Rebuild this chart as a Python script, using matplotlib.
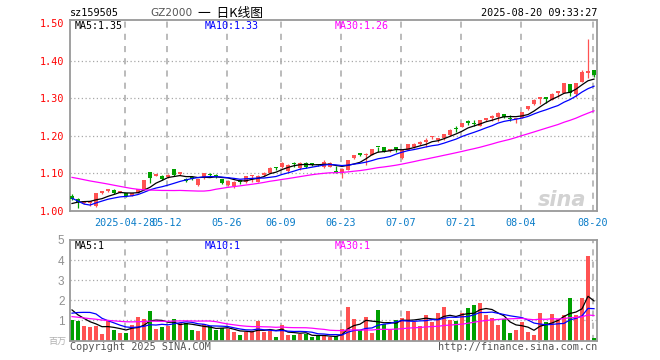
#!/usr/bin/env python
# -*- coding: utf-8 -*-

"""
plot.py

Daily K-line chart of sz159505 (GZ2000) in the style of the sina finance
snapshot: candles with MA5/MA10/MA30 on top, volume bars with their own
moving averages below.
"""
# ~~~~~~~~~~~~~~~~~~~~~~~~~~~~~~~~~~~~~~~~~~~~~~~~~~~~~~~~~~~~~~~~~~~~~~~~~~~~ #
# ~~~ 1) Imports ~~~~~~~~~~~~~~~~~~~~~~~~~~~~~~~~~~~~~~~~~~~~~~~~~~~~~~~~~~~~~ #
import matplotlib
matplotlib.use('Agg')
import matplotlib.pyplot as plt
import numpy as np
import pandas as pd


# ~~~~~~~~~~~~~~~~~~~~~~~~~~~~~~~~~~~~~~~~~~~~~~~~~~~~~~~~~~~~~~~~~~~~~~~~~~~~ #
# ~~~ 2) Data ~~~~~~~~~~~~~~~~~~~~~~~~~~~~~~~~~~~~~~~~~~~~~~~~~~~~~~~~~~~~~~~~ #
dates = [
    '2025-04-15', '2025-04-16', '2025-04-17', '2025-04-18', '2025-04-21',
    '2025-04-22', '2025-04-23', '2025-04-24', '2025-04-25', '2025-04-28',
    '2025-04-29', '2025-04-30', '2025-05-06', '2025-05-07', '2025-05-08',
    '2025-05-09', '2025-05-12', '2025-05-13', '2025-05-14', '2025-05-15',
    '2025-05-16', '2025-05-19', '2025-05-20', '2025-05-21', '2025-05-22',
    '2025-05-23', '2025-05-26', '2025-05-27', '2025-05-28', '2025-05-29',
    '2025-05-30', '2025-06-03', '2025-06-04', '2025-06-05', '2025-06-06',
    '2025-06-09', '2025-06-10', '2025-06-11', '2025-06-12', '2025-06-13',
    '2025-06-16', '2025-06-17', '2025-06-18', '2025-06-19', '2025-06-20',
    '2025-06-23', '2025-06-24', '2025-06-25', '2025-06-26', '2025-06-27',
    '2025-06-30', '2025-07-01', '2025-07-02', '2025-07-03', '2025-07-04',
    '2025-07-07', '2025-07-08', '2025-07-09', '2025-07-10', '2025-07-11',
    '2025-07-14', '2025-07-15', '2025-07-16', '2025-07-17', '2025-07-18',
    '2025-07-21', '2025-07-22', '2025-07-23', '2025-07-24', '2025-07-25',
    '2025-07-28', '2025-07-29', '2025-07-30', '2025-07-31', '2025-08-01',
    '2025-08-04', '2025-08-05', '2025-08-06', '2025-08-07', '2025-08-08',
    '2025-08-11', '2025-08-12', '2025-08-13', '2025-08-14', '2025-08-15',
    '2025-08-18', '2025-08-19', '2025-08-20']

open_ = [
    1.041, 1.031, 1.021, 1.022, 1.013, 1.048, 1.053, 1.056, 1.049, 1.047,
    1.041, 1.049, 1.056, 1.103, 1.094, 1.093, 1.091, 1.111, 1.099, 1.083,
    1.091, 1.069, 1.087, 1.096, 1.095, 1.084, 1.070, 1.066, 1.079, 1.077,
    1.092, 1.078, 1.096, 1.102, 1.114, 1.117, 1.106, 1.125, 1.113, 1.127,
    1.125, 1.123, 1.118, 1.118, 1.107, 1.100, 1.109, 1.140, 1.151, 1.148,
    1.149, 1.170, 1.169, 1.159, 1.166, 1.140, 1.163, 1.169, 1.177, 1.183,
    1.196, 1.190, 1.195, 1.202, 1.218, 1.224, 1.236, 1.235, 1.226, 1.241,
    1.247, 1.250, 1.257, 1.246, 1.244, 1.248, 1.270, 1.284, 1.298, 1.300,
    1.296, 1.314, 1.314, 1.337, 1.312, 1.343, 1.368, 1.374]
high = [
    1.044, 1.035, 1.026, 1.023, 1.048, 1.052, 1.057, 1.058, 1.053, 1.049,
    1.049, 1.059, 1.083, 1.104, 1.098, 1.095, 1.099, 1.112, 1.104, 1.088,
    1.093, 1.085, 1.101, 1.100, 1.098, 1.086, 1.082, 1.080, 1.082, 1.094,
    1.095, 1.095, 1.103, 1.117, 1.117, 1.131, 1.125, 1.130, 1.130, 1.129,
    1.128, 1.125, 1.135, 1.130, 1.119, 1.113, 1.136, 1.150, 1.155, 1.155,
    1.166, 1.171, 1.171, 1.162, 1.167, 1.163, 1.179, 1.182, 1.185, 1.193,
    1.200, 1.195, 1.206, 1.218, 1.225, 1.235, 1.242, 1.242, 1.242, 1.248,
    1.254, 1.262, 1.259, 1.254, 1.248, 1.264, 1.280, 1.297, 1.300, 1.301,
    1.313, 1.316, 1.341, 1.338, 1.340, 1.375, 1.456, 1.375]
low = [
    1.029, 1.007, 1.019, 1.014, 1.010, 1.045, 1.050, 1.045, 1.047, 1.038,
    1.040, 1.048, 1.055, 1.075, 1.092, 1.082, 1.089, 1.094, 1.096, 1.077,
    1.082, 1.066, 1.086, 1.090, 1.088, 1.072, 1.066, 1.061, 1.072, 1.075,
    1.078, 1.076, 1.094, 1.100, 1.110, 1.115, 1.104, 1.118, 1.109, 1.115,
    1.120, 1.119, 1.115, 1.116, 1.101, 1.089, 1.108, 1.139, 1.146, 1.122,
    1.148, 1.156, 1.156, 1.157, 1.156, 1.138, 1.162, 1.168, 1.176, 1.170,
    1.192, 1.183, 1.190, 1.200, 1.211, 1.222, 1.228, 1.225, 1.225, 1.239,
    1.240, 1.238, 1.248, 1.238, 1.235, 1.246, 1.269, 1.283, 1.284, 1.286,
    1.295, 1.303, 1.313, 1.306, 1.302, 1.342, 1.354, 1.356]
close = [
    1.033, 1.023, 1.022, 1.023, 1.047, 1.049, 1.054, 1.047, 1.050, 1.040,
    1.048, 1.058, 1.082, 1.087, 1.095, 1.084, 1.097, 1.095, 1.100, 1.081,
    1.084, 1.084, 1.100, 1.095, 1.092, 1.074, 1.079, 1.078, 1.077, 1.093,
    1.094, 1.093, 1.101, 1.115, 1.113, 1.128, 1.122, 1.124, 1.128, 1.118,
    1.123, 1.121, 1.131, 1.128, 1.102, 1.111, 1.135, 1.149, 1.150, 1.149,
    1.165, 1.169, 1.157, 1.161, 1.165, 1.162, 1.178, 1.177, 1.184, 1.185,
    1.197, 1.191, 1.204, 1.215, 1.217, 1.233, 1.235, 1.230, 1.241, 1.247,
    1.253, 1.261, 1.250, 1.244, 1.246, 1.263, 1.279, 1.296, 1.300, 1.298,
    1.312, 1.315, 1.339, 1.314, 1.339, 1.370, 1.369, 1.361]
volume = [
    1.02, 0.98, 0.72, 0.67, 0.74, 0.33, 1.00, 0.52, 0.38, 0.38,
    0.77, 1.19, 1.07, 1.47, 0.58, 0.69, 0.74, 1.07, 0.86, 0.85,
    0.52, 0.48, 0.80, 0.70, 0.50, 0.60, 0.57, 0.43, 0.28, 0.42,
    0.45, 0.98, 0.40, 0.48, 0.18, 0.78, 0.25, 0.28, 0.32, 0.30,
    0.15, 0.20, 0.28, 0.16, 0.22, 0.58, 1.68, 1.08, 0.50, 1.18,
    0.37, 1.53, 0.84, 0.53, 1.03, 1.13, 1.48, 0.94, 0.73, 1.28,
    0.93, 1.38, 1.68, 1.00, 0.98, 1.39, 1.63, 1.78, 1.88, 1.28,
    1.14, 0.78, 1.06, 0.37, 0.53, 0.93, 0.43, 0.28, 1.38, 0.93,
    1.33, 1.06, 1.28, 2.13, 1.28, 2.13, 4.18, 0.13]

# closes / volumes of the 29 sessions before the window (03-04 .. 04-14),
# only needed so the moving averages start where the snapshot shows them
prior_close = [
    1.11, 1.12, 1.12, 1.13, 1.13, 1.14, 1.14, 1.14, 1.13, 1.13,
    1.12, 1.12, 1.11, 1.11, 1.10, 1.10, 1.10, 1.09, 1.10, 1.10,
    1.10, 1.10, 1.05, 0.99, 1.00, 1.005, 1.015, 1.02, 1.027]
prior_volume = [
    1.90, 1.80, 1.70, 1.60, 1.60, 1.50, 1.20, 1.10, 1.00, 0.95,
    0.90, 0.85, 0.80, 0.80, 0.75, 0.75, 0.70, 0.70, 0.70, 0.75,
    0.65, 0.65, 0.70, 1.50, 2.50, 2.20, 1.60, 1.50, 1.28]

tick_dates = ['2025-04-28', '2025-05-12', '2025-05-26', '2025-06-09',
              '2025-06-23', '2025-07-07', '2025-07-21', '2025-08-04',
              '2025-08-20']
tick_labels = ['2025-04-28', '05-12', '05-26', '06-09', '06-23', '07-07',
               '07-21', '08-04', '08-20']
price_ticks = [1.00, 1.10, 1.20, 1.30, 1.40, 1.50]
volume_ticks = [1, 2, 3, 4, 5]

# ~~~~~~~~~~~~~~~~~~~~~~~~~~~~~~~~~~~~~~~~~~~~~~~~~~~~~~~~~~~~~~~~~~~~~~~~~~~~ #
# ~~~ 3) Style ~~~~~~~~~~~~~~~~~~~~~~~~~~~~~~~~~~~~~~~~~~~~~~~~~~~~~~~~~~~~~~~ #
W, H = 660, 360
RED = '#ff5252'
GREEN = '#00a000'
FRAME = '#999999'
GRID = '#a8a8a8'
XLAB = '#0a7cc8'
MONO = 'DejaVu Sans Mono'
MA_COLORS = {5: 'black', 10: '#0000ff', 30: '#ff00ff'}


def fx(x):
    return x / W


def fy(y):
    return 1 - y / H


def styleAxes(ax):
    for sp in ax.spines.values():
        sp.set_color(FRAME)
        sp.set_linewidth(1.3)
    ax.tick_params(length=0)


def movingAverages(prior, series):
    full = pd.Series(prior + series)
    out = {}
    for n in (5, 10, 30):
        out[n] = full.rolling(n).mean().iloc[len(prior):].to_numpy()
    return out


# ~~~~~~~~~~~~~~~~~~~~~~~~~~~~~~~~~~~~~~~~~~~~~~~~~~~~~~~~~~~~~~~~~~~~~~~~~~~~ #
# ~~~ 4) Plot ~~~~~~~~~~~~~~~~~~~~~~~~~~~~~~~~~~~~~~~~~~~~~~~~~~~~~~~~~~~~~~~~ #
def main():
    x = np.arange(len(dates))
    o = np.array(open_)
    c = np.array(close)
    up = c >= o
    colors = np.where(up, RED, GREEN)
    tick_pos = [dates.index(d) - 0.25 for d in tick_dates]

    fig = plt.figure(figsize=(W / 100, H / 100), dpi=100)
    axP = fig.add_axes([fx(70), fy(211), fx(597) - fx(70), fy(20) - fy(211)])
    axV = fig.add_axes([fx(70), fy(340.5), fx(597) - fx(70),
                        fy(240) - fy(340.5)])

    # price panel
    styleAxes(axP)
    axP.set_xlim(-1 / 3, 87.5)
    axP.set_ylim(1.0, 1.5077)
    for yv in price_ticks[1:-1]:
        axP.axhline(yv, color=GRID, lw=0.9, ls=(0, (1, 2)), zorder=0)
    for tp in tick_pos:
        axP.axvline(tp, color=GRID, lw=1.1, ls=(0, (4, 4)), zorder=0)
    axP.vlines(x, low, high, colors=colors, lw=0.9, zorder=2)
    body = np.maximum(np.abs(c - o), 0.0045)
    axP.bar(x, body, bottom=np.minimum(o, c), width=0.8, color=colors,
            linewidth=0, zorder=3)
    maP = movingAverages(prior_close, close)
    for n, col in MA_COLORS.items():
        axP.plot(x, maP[n], color=col, lw=0.9, zorder=4)
    axP.set_yticks(price_ticks)
    axP.set_yticklabels(['%.2f' % v for v in price_ticks], color='red',
                        family=MONO, fontsize=7.3)
    axP.tick_params(axis='y', pad=4)
    axP.set_xticks(tick_pos)
    axP.set_xticklabels(tick_labels, color=XLAB, family=MONO, fontsize=7.3)
    axP.tick_params(axis='x', pad=5)

    axP.text(fx(75), fy(26), 'MA5:%.2f' % maP[5][-1], color='black',
             family=MONO, fontsize=7.2, va='center', transform=fig.transFigure)
    axP.text(fx(205), fy(26), 'MA10:%.2f' % maP[10][-1], color='#0000ff',
             family=MONO, fontsize=7.2, va='center', transform=fig.transFigure)
    axP.text(fx(335), fy(26), 'MA30:%.2f' % (int(maP[30][-1] * 100) / 100),
             color='#ff00ff', family=MONO, fontsize=7.2, va='center',
             transform=fig.transFigure)
    fig.text(fx(562), fy(200), 'sina', color='#d2d2d2', fontsize=15,
             fontweight='bold', style='italic', ha='center', va='center',
             zorder=1)

    # volume panel
    styleAxes(axV)
    axV.set_xlim(-1 / 3, 87.5)
    axV.set_ylim(0, 5)
    for yv in volume_ticks[:-1]:
        axV.axhline(yv, color=GRID, lw=0.9, ls=(0, (1, 2)), zorder=0)
    for tp in tick_pos:
        axV.axvline(tp, color=GRID, lw=1.1, ls=(0, (4, 4)), zorder=0)
    axV.bar(x, volume, width=0.8, color=colors, linewidth=0, zorder=2)
    maV = movingAverages(prior_volume, volume)
    for n, col in MA_COLORS.items():
        axV.plot(x, maV[n], color=col, lw=0.9, zorder=3)
    axV.set_xticks([])
    axV.set_yticks(volume_ticks)
    axV.set_yticklabels([str(v) for v in volume_ticks], color='#909090',
                        family='Liberation Sans', fontsize=8.5)
    axV.tick_params(axis='y', pad=4)

    fig.text(fx(75), fy(246), 'MA5:1', color='black', family=MONO,
             fontsize=7.2, va='center')
    fig.text(fx(205), fy(246), 'MA10:1', color='#0000ff', family=MONO,
             fontsize=7.2, va='center')
    fig.text(fx(335), fy(246), 'MA30:1', color='#ff00ff', family=MONO,
             fontsize=7.2, va='center')

    # header and footer texts
    fig.text(fx(70), fy(13), 'sz159505', family=MONO, fontsize=7.3,
             va='center')
    fig.text(fx(150), fy(13), 'GZ2000', family='DejaVu Sans', fontsize=7.6,
             color='#555555', va='center')
    fig.text(fx(198), fy(13), '一  日K线图',
             family=['Noto Sans CJK SC', 'DejaVu Sans'], fontsize=9.2,
             va='center')
    fig.text(fx(597), fy(13), '2025-08-20 09:33:27', family=MONO,
             fontsize=7.3, ha='right', va='center')
    fig.text(fx(66), fy(341), '百万', family=['Noto Sans CJK SC'],
             fontsize=6.5, color='#b0b0b0', ha='right', va='center')
    fig.text(fx(70), fy(347), 'Copyright 2025 SINA.COM', family=MONO,
             fontsize=7.3, color='#555555', va='center')
    fig.text(fx(597), fy(347), 'http://finance.sina.com.cn', family=MONO,
             fontsize=7.3, color='#555555', ha='right', va='center')

    fig.savefig('out.png', dpi=100)


if __name__ == '__main__':
    main()
